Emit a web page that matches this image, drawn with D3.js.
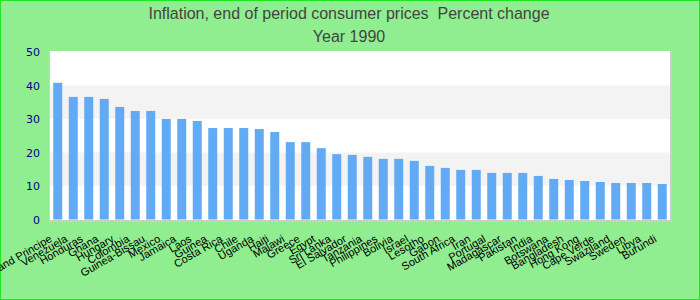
<!DOCTYPE html>
<html><head><meta charset="utf-8">
<script src="https://cdn.jsdelivr.net/npm/d3@7"></script>
<style>html,body{margin:0;padding:0;background:#90ee90;}svg{display:block;}</style>
</head><body>
<script>
const categories = ["Sao Tome and Principe","Venezuela","Honduras","Ghana","Hungary","Colombia","Guinea-Bissau","Mexico","Jamaica","Laos","Guinea","Costa Rica","Chile","Uganda","Haiti","Malawi","Greece","Egypt","Sri Lanka","El Salvador","Tanzania","Philippines","Bolivia","Israel","Lesotho","Gabon","South Africa","Iran","Portugal","Madagascar","Pakistan","India","Botswana","Bangladesh","Hong Kong","Cape Verde","Swaziland","Sweden","Libya","Burundi"];
const values = [40.8,36.6,36.6,36.0,33.6,32.4,32.4,30.0,30.0,29.4,27.3,27.3,27.3,27.0,26.1,23.1,23.1,21.3,19.5,19.3,18.7,18.1,18.1,17.5,16.0,15.4,14.8,14.8,13.9,13.9,13.9,13.0,12.1,11.8,11.5,11.2,10.9,10.9,10.9,10.6];
const yTicks = [0,10,20,30,40,50];
const titleLines = ["Inflation, end of period consumer prices  Percent change","Year 1990"];

const W=700,H=300;
const L=50,R=670,T=51,B=220;
const svg=d3.select("body").append("svg").attr("width",W).attr("height",H);
svg.append("rect").attr("x",0.5).attr("y",0.5).attr("width",W-1).attr("height",H-1)
  .attr("fill","#90ee90").attr("stroke","#22e622").attr("stroke-width",1);

const x=d3.scaleBand().domain(categories).range([L,R]).paddingInner(0.42).paddingOuter(0.21);
const y=d3.scaleLinear().domain([0,50]).range([219.5,52]);

// plot background
svg.append("rect").attr("x",L).attr("y",T).attr("width",R-L).attr("height",B-T).attr("fill","#ffffff");
// bands
const bands=[[10,20],[30,40]];
svg.selectAll(".band").data(bands).enter().append("rect")
  .attr("x",L).attr("width",R-L)
  .attr("y",d=>y(d[1])).attr("height",d=>y(d[0])-y(d[1]))
  .attr("fill","#f3f3f3");

// bars
svg.selectAll(".bar").data(values).enter().append("rect")
  .attr("x",(d,i)=>x(categories[i])).attr("width",x.bandwidth())
  .attr("y",d=>y(d)).attr("height",d=>y(0)-y(d))
  .attr("fill","#62aaf4");

// plot border
svg.append("line").attr("x1",L-0.5).attr("x2",L-0.5).attr("y1",T).attr("y2",B+1).attr("stroke","#d0d0d0");
svg.append("line").attr("x1",R+1).attr("x2",R+1).attr("y1",T).attr("y2",B+2).attr("stroke","#cccccc").attr("stroke-width",2);
svg.append("line").attr("x1",L-1).attr("x2",R+2).attr("y1",B+1).attr("y2",B+1).attr("stroke","#cccccc").attr("stroke-width",2);

// y axis
const ya=svg.append("g").attr("transform",`translate(${L-10},0)`)
  .call(d3.axisLeft(y).tickValues(yTicks).tickSize(0).tickPadding(0));
ya.select(".domain").remove();
ya.selectAll("text").attr("fill","#00008b").style("font-family","'DejaVu Sans',sans-serif").style("font-size","11px");

// x axis
const xa=svg.append("g").attr("transform",`translate(0,${B})`)
  .call(d3.axisBottom(x).tickSize(0).tickPadding(0));
xa.select(".domain").remove();
xa.selectAll("text")
  .attr("fill","#000").style("font-family","'Liberation Sans',Arial,sans-serif").style("font-size","11px")
  .attr("text-anchor","end").attr("x",0).attr("y",0).attr("dy",0).attr("dx",0)
  .attr("transform","translate(-5,21) rotate(-30)");

// title
svg.selectAll(".title").data(titleLines).enter().append("text")
  .attr("x",349).attr("y",(d,i)=>19+i*23)
  .attr("text-anchor","middle").attr("fill","#444")
  .attr("xml:space","preserve").style("white-space","pre")
  .style("font-family","'Liberation Sans',Arial,sans-serif").style("font-size","16px")
  .text(d=>d);
</script>
</body></html>
